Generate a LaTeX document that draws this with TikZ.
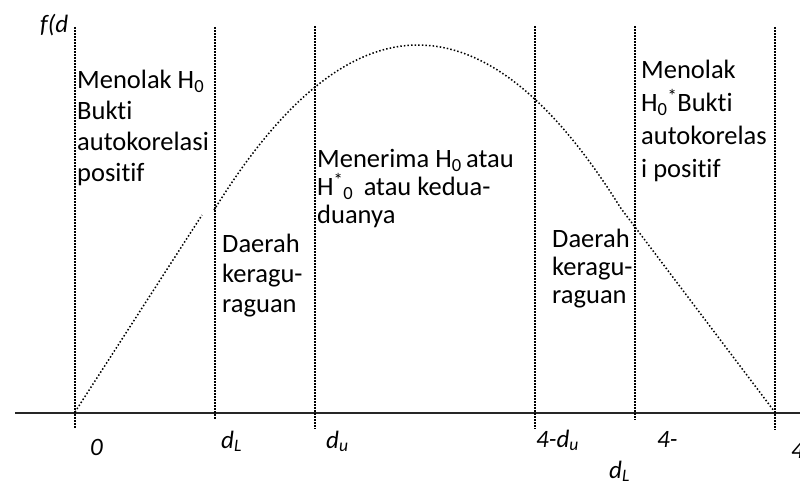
\documentclass[tikz,border=0pt]{standalone}
\usepackage{fontspec}
\setmainfont{Carlito}[Ligatures={NoCommon,NoContextual,NoRequired},Contextuals=NoAlternate]
\begin{document}
\begin{tikzpicture}[x=1pt,y=-1pt,
  dotline/.style={line width=1.5pt, dash pattern=on 1.5pt off 1.5pt, black},
  curveline/.style={line width=1.5pt, dash pattern=on 1.5pt off 2.1pt, black},
  axisline/.style={line width=1.8pt, black!85},
  blk/.style={anchor=north west, inner sep=0pt, align=left, font=\fontsize{26.5}{31}\selectfont},
  lab/.style={anchor=base west, inner sep=0pt, font=\fontsize{25}{28}\selectfont\itshape}]
\useasboundingbox (0,0) rectangle (800,483);
% axis
\coordinate (axL) at (15,413);
\coordinate (axR) at (800,413);
\draw[axisline] (axL) -- (axR);
% vertical dotted lines
\coordinate (v1t) at (75,27);  \coordinate (v1b) at (75,428);
\coordinate (v2t) at (215,27); \coordinate (v2b) at (215,420);
\coordinate (v3t) at (315,26); \coordinate (v3b) at (315,429);
\coordinate (v4t) at (535,26); \coordinate (v4b) at (535,429);
\coordinate (v5t) at (635,26); \coordinate (v5b) at (635,420);
\coordinate (v6t) at (775,27); \coordinate (v6b) at (775,430);
\foreach \i in {1,...,6} \draw[dotline] (v\i t) -- (v\i b);
% curve
\coordinate (c0) at (75,412);
\coordinate (c1) at (202,215);
\coordinate (c3) at (774,411);
\draw[curveline] (c0) -- (c1);
\draw[curveline] plot[domain=214:621, samples=60] (\x, {45+0.00396*(\x-418)*(\x-418)}) -- (c3);
% texts
\node[blk] (t1) at (77,70) {Menolak H\textsubscript{0}\\Bukti\\autokorelasi\\positif};
\node[blk, font=\fontsize{26.5}{30}\selectfont] (t2) at (222,234) {Daerah\\keragu-\\raguan};
\node[blk, font=\fontsize{26.5}{28}\selectfont] (t3) at (317,149) {Menerima H\textsubscript{0}\,atau\\H\textsuperscript{*}\textsubscript{0}\, atau kedua-\\duanya};
\node[blk, font=\fontsize{26.5}{28}\selectfont] (t4) at (552,229) {Daerah\\keragu-\\raguan};
\node[blk, font=\fontsize{26.5}{33}\selectfont] (t5) at (641,60) {Menolak\\H\textsubscript{0}\textsuperscript{*}Bukti\\autokorelas\\i positif};
% axis labels
\node[lab] (fd) at (40,32) {f(d};
\node[lab] (l0) at (90,455) {0};
\node[lab] (l1) at (221,448) {d\textsubscript{L}};
\node[lab] (l2) at (326,448) {d\textsubscript{u}};
\node[lab] (l3) at (536,447) {4-d\textsubscript{u}};
\node[lab] (l4) at (657,447) {4-};
\node[lab] (l5) at (609,478) {d\textsubscript{L}};
\node[lab] (l6) at (791,458) {4};
\end{tikzpicture}
\end{document}
